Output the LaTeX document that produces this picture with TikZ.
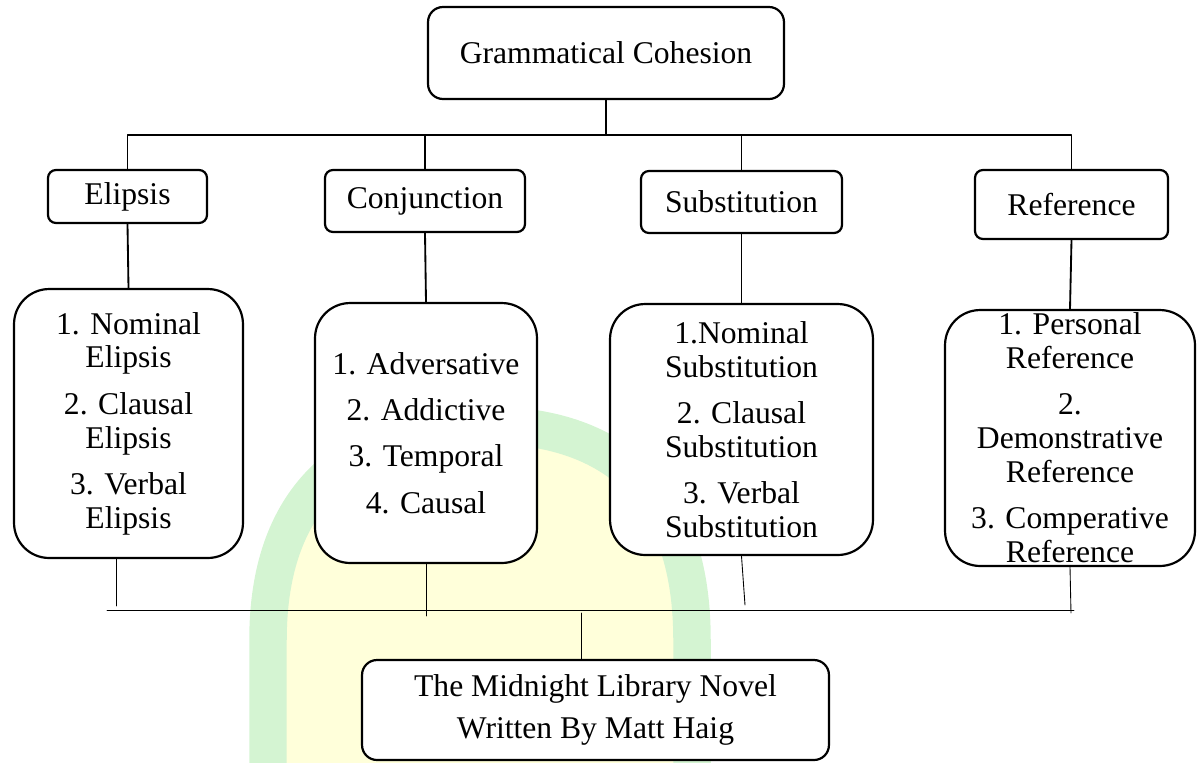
\documentclass[tikz,border=0pt]{standalone}
\usepackage{fontspec}
\setmainfont{Liberation Serif}
\usetikzlibrary{calc}
\definecolor{fg}{RGB}{0,0,0}
\definecolor{bg}{RGB}{255,255,255}
\definecolor{wmyellow}{RGB}{255,255,218}
\definecolor{wmgreen}{RGB}{212,244,210}
\tikzset{
  every picture/.style={fg, line width=0.8pt, line cap=round, line join=round},
  every node/.style={font=\fontsize{18}{19.3}\selectfont},
  % Kästen
  box/.style={draw=fg, fill=bg, line width=1.25pt, rounded corners=#1, inner sep=0pt, align=center},
  box/.default=4.5pt,
  listbox/.style={box=20pt},
  % Linien
  bar/.style={line width=1.05pt},
  lite/.style={line width=0.5pt},
}
\begin{document}
\begin{tikzpicture}[x=0.02cm, y=-0.02cm]
  \useasboundingbox (0,0) rectangle (1197,762);
  \clip (0,0) rectangle (1197,762);
  % Wasserzeichen im Hintergrund
  \draw[wmgreen, fill=wmyellow, line width=0.75cm]
    (268,800) -- (268,640) .. controls (268,470) and (380,425) .. (485,425)
    .. controls (590,425) and (692,470) .. (692,640) -- (692,800);
  % Oberbegriff
  \node[box=8.5pt, minimum width=7.12cm, minimum height=1.84cm] (gc) at (606,53) {Grammatical Cohesion};
  % Kategorien
  \node[box, minimum width=3.18cm, minimum height=1.06cm] (elip) at (127.5,196.5) {Elipsis};
  \node[box, minimum width=4.0cm, minimum height=1.24cm] (conj) at (425,201) {Conjunction};
  \node[box, minimum width=4.02cm, minimum height=1.24cm] (subst) at (741.5,202) {Substitution};
  \node[box, minimum width=3.86cm, minimum height=1.38cm] (ref) at (1071.5,204.5) {Reference};
  % Unterarten
  \node[listbox, minimum width=4.58cm, minimum height=5.38cm] (elipL) at (128.5,423.5)
    {1. Nominal\\Elipsis\\[7pt]2. Clausal\\Elipsis\\[7pt]3. Verbal\\Elipsis};
  \node[listbox, minimum width=4.44cm, minimum height=5.2cm] (conjL) at (426,433)
    {1. Adversative\\[7pt]2. Addictive\\[7pt]3. Temporal\\[7pt]4. Causal};
  \node[listbox, minimum width=5.26cm, minimum height=5.02cm] (substL) at (741.5,429.5)
    {1.Nominal\\Substitution\\[7pt]2. Clausal\\Substitution\\[7pt]3. Verbal\\Substitution};
  \node[listbox, minimum width=5.0cm, minimum height=5.12cm] (refL) at (1070,438)
    {1. Personal\\Reference\\[7pt]2.\\Demonstrative\\Reference\\[7pt]3. Comperative\\Reference};
  % Quelle
  \node[box=8.5pt, minimum width=9.34cm, minimum height=2.0cm] (novel) at (595.5,710)
    {The Midnight Library Novel\\[5pt]Written By Matt Haig};
  % obere Verbindungen
  \coordinate (hub) at (606,135);
  \draw[bar] (gc.south) -- (hub);
  \draw[bar] (elip.north) |- (hub);
  \draw[bar] (ref.north) |- (hub);
  \draw[bar] (conj.north) -- (conj.north |- hub);
  \draw[bar] (subst.north) -- (subst.north |- hub);
  \draw[bar] (elip.south) -- (elipL.north);
  \draw[bar] (conj.south) -- (conjL.north);
  \draw[bar] (subst.south) -- (substL.north);
  \draw[bar] (ref.south) -- (refL.north);
  % untere Verbindungen
  \coordinate (barL) at (107,610);
  \coordinate (barR) at (1074,610);
  \coordinate (tE) at (116,606);
  \coordinate (tC) at (426,616);
  \coordinate (tS) at (745,605);
  \coordinate (tR) at (1071,613);
  \coordinate (tB) at (581,613);
  \draw[lite] (barL) -- (barR);
  \draw[lite] (elipL.south -| tE) -- (tE);
  \draw[lite] (conjL.south -| tC) -- (tC);
  \draw[lite] (substL.south) -- (tS);
  \draw[lite] (refL.south) -- (tR);
  \draw[lite] (tB) -- (tB |- novel.north);
\end{tikzpicture}
\end{document}
